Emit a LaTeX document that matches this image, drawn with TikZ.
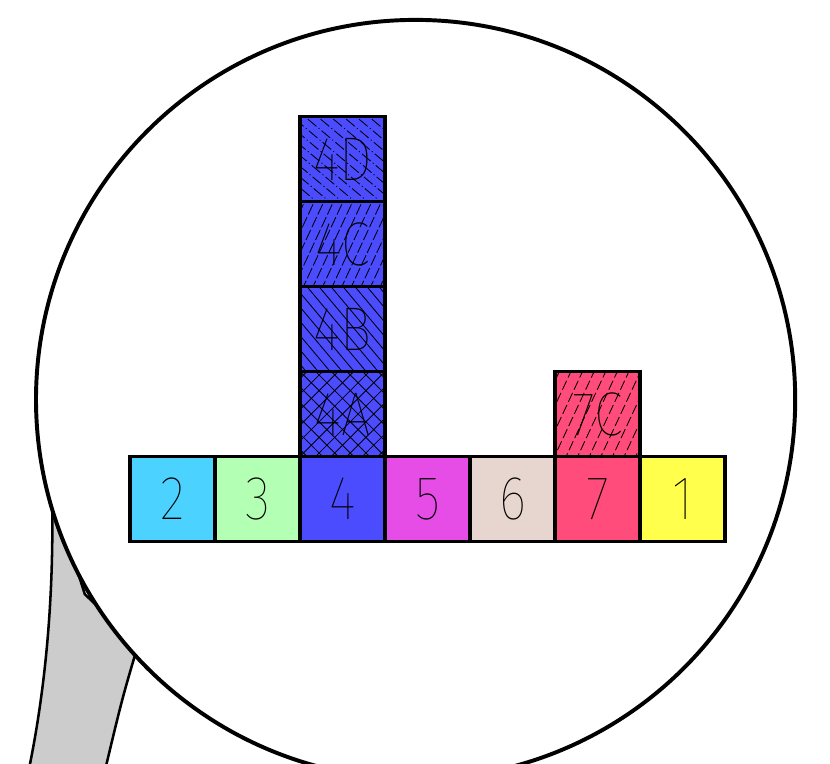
\documentclass[tikz,border=0pt]{standalone}
\usepackage{fontspec}
\IfFontExistsTF{Fira Sans Thin}
  {\newfontfamily\cadfont{Fira Sans Thin}[FakeStretch=0.85]}
  {\IfFontExistsTF{DejaVu Sans ExtraLight}
    {\newfontfamily\cadfont{DejaVu Sans ExtraLight}[FakeStretch=0.8]}
    {\newfontfamily\cadfont{DejaVu Sans}[FakeStretch=0.8]}}
\usetikzlibrary{positioning, calc}
\definecolor{cellcyan}{RGB}{76, 210, 255}
\definecolor{cellgreen}{RGB}{179, 255, 179}
\definecolor{cellblue}{RGB}{76, 76, 255}
\definecolor{cellmagenta}{RGB}{230, 76, 230}
\definecolor{cellbeige}{RGB}{231, 214, 208}
\definecolor{cellrose}{RGB}{255, 76, 122}
\definecolor{cellyellow}{RGB}{255, 255, 76}
\definecolor{handlegray}{RGB}{204, 204, 204}
% hatch lines clipped to a cell: node, angle, spacing, line style
\newcommand{\hatchcell}[4]{%
  \begin{scope}
    \clip (#1.south west) rectangle (#1.north east);
    \foreach \k in {-14,...,14}
      \draw[#4] ($(#1.center)+(\k*#3,0)+(#2:-2)$) -- ++(#2:4);
  \end{scope}}

\begin{document}
\begin{tikzpicture}[
  cell/.style={draw, line width=2.6pt, minimum size=2.125cm, inner sep=0pt, outer sep=0pt,
    font=\cadfont\fontsize{44}{48}\selectfont},
  hatch/.style={line width=0.6pt}
]
  \clip (0,0) rectangle (20.75,19.075);

  % handle behind the lens
  \draw[line width=1.8pt, fill=handlegray] (1.3,6.8) -- (2.12,4.22) -- (3.45,2.95)
    .. controls (3.05,1.6) .. (2.55,-0.5) -- (0.65,-0.5)
    .. controls (1.2,2) and (1.35,4.5) .. cycle;
  \draw[line width=2.8pt, fill=white] (10.39,9.0875) circle (9.49cm);

  % bottom row
  \node[cell, fill=cellcyan] (c2) at (4.3125,6.6) {2};
  \node[cell, fill=cellgreen, right=0pt of c2] (c3) {3};
  \node[cell, fill=cellblue, right=0pt of c3] (c4) {4};
  \node[cell, fill=cellmagenta, right=0pt of c4] (c5) {5};
  \node[cell, fill=cellbeige, right=0pt of c5] (c6) {6};
  \node[cell, fill=cellrose, right=0pt of c6] (c7) {7};
  \node[cell, fill=cellyellow, right=0pt of c7] (c1) {1};

  % stacks
  \node[cell, fill=cellblue, above=0pt of c4] (c4a) {4A};
  \node[cell, fill=cellblue, above=0pt of c4a] (c4b) {4B};
  \node[cell, fill=cellblue, above=0pt of c4b] (c4c) {4C};
  \node[cell, fill=cellblue, above=0pt of c4c] (c4d) {4D};
  \node[cell, fill=cellrose, above=0pt of c7] (c7c) {7C};

  \hatchcell{c4a}{45}{0.39}{hatch}
  \hatchcell{c4a}{-45}{0.39}{hatch}
  \hatchcell{c4b}{-50}{0.3}{hatch}
  \hatchcell{c4c}{65}{0.24}{hatch, dash pattern=on 8pt off 2pt}
  \hatchcell{c4d}{-40}{0.32}{hatch, dash pattern=on 8pt off 2pt on 0.8pt off 2pt}
  \hatchcell{c7c}{65}{0.29}{hatch, dash pattern=on 7pt off 2.5pt}
\end{tikzpicture}
\end{document}
